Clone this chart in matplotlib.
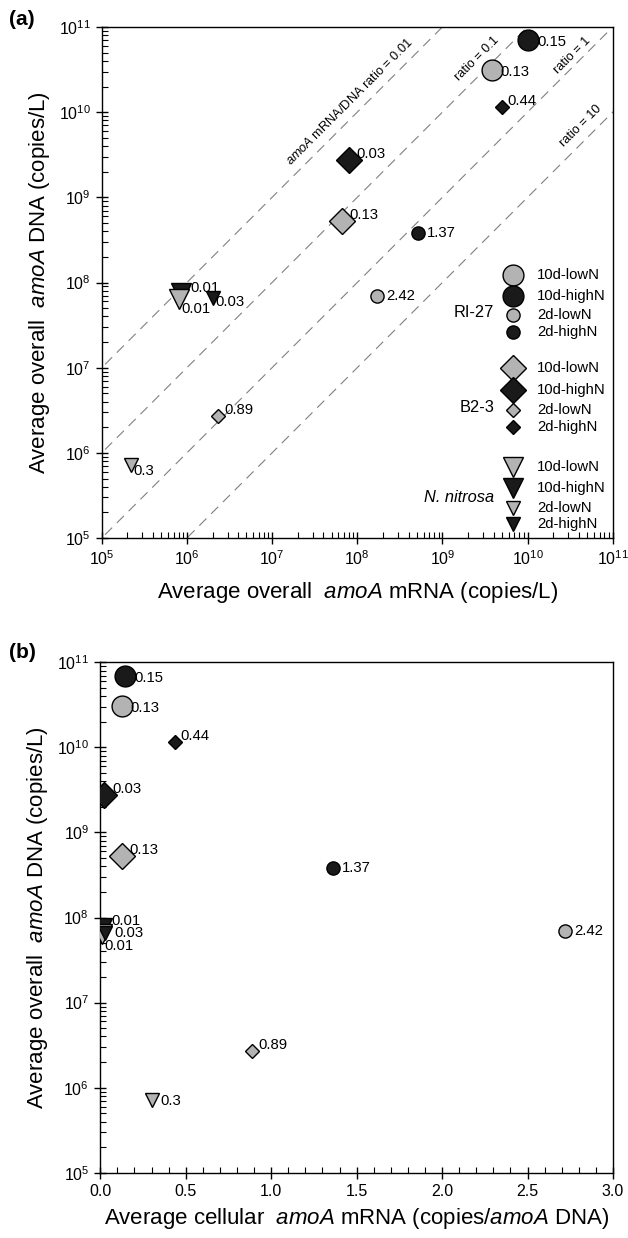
import numpy as np
import matplotlib
matplotlib.use("Agg")
from matplotlib import pyplot as plt
from matplotlib.ticker import FixedLocator, MultipleLocator, FormatStrFormatter

plt.rcParams['font.family'] = ['Liberation Sans', 'DejaVu Sans']
plt.rcParams['mathtext.fontset'] = 'custom'
plt.rcParams['mathtext.rm'] = 'Liberation Sans'
plt.rcParams['mathtext.it'] = 'Liberation Sans:italic'
plt.rcParams['axes.linewidth'] = 1.0

# order inside each group: 10d-lowN, 10d-highN, 2d-lowN, 2d-highN
groups = ['RI-27', 'B2-3', 'N. nitrosa']
treatments = ['10d-lowN', '10d-highN', '2d-lowN', '2d-highN']

# average overall amoA mRNA (copies/L)
mrna = [3.8e9, 1.02e10, 1.7e8, 5.2e8,
        6.6e7, 7.96e7, 2.34e6, 5.06e9,
        8.15e5, 8.6e5, 2.2e5, 2.0e6]
# average overall amoA DNA (copies/L)
dna = [3.1e10, 7.0e10, 7.0e7, 3.8e8,
       5.3e8, 2.74e9, 2.71e6, 1.16e10,
       6.4e7, 7.5e7, 7.26e5, 6.6e7]
# average cellular amoA mRNA (copies/amoA DNA), panel b x
cellular = [0.125, 0.146, 2.72, 1.36,
            0.125, 0.023, 0.89, 0.437,
            0.010, 0.010, 0.30, 0.030]
ratio_labels = ['0.13', '0.15', '2.42', '1.37',
                '0.13', '0.03', '0.89', '0.44',
                '0.01', '0.01', '0.3', '0.03']

ratio_lines = [0.01, 0.1, 1, 10]
decades = [5, 6, 7, 8, 9, 10, 11]

# marker styles
shape = {'RI-27': 'o', 'B2-3': 'D', 'N. nitrosa': 'v'}
size = {'o': (15, 9.5), 'D': (13.5, 7.6), 'v': (15, 10)}
grey = '#b3b3b3'
black = '#1a1a1a'

# label offsets (pixels) for each point, panel a and b
off_a = [(9, -2), (9, -2), (9, 0), (9, 0),
         (8, 6), (8, 6), (6, 6), (5, 6),
         (2, -10), (9, 5), (2, -6), (3, -4)]
off_b = [(9, -2), (9, -2), (9, 0), (9, 0),
         (8, 6), (8, 6), (6, 6), (5, 6),
         (2, -12), (9, 7), (9, -1), (9, 0)]


def style(i):
    g = groups[i // 4]
    t = i % 4
    m = shape[g]
    ms = size[m][0] if t < 2 else size[m][1]
    fc = grey if t % 2 == 0 else black
    return m, ms, fc


def draw_points(ax, xs, ys, offs):
    # lowN drawn on top of highN, like the original
    order = [1, 0, 3, 2, 5, 4, 7, 6, 9, 8, 11, 10]
    for i in order:
        m, ms, fc = style(i)
        ax.plot(xs[i], ys[i], marker=m, ms=ms, mfc=fc, mec='black', mew=1.0,
                ls='none', zorder=4)
    for i in range(len(xs)):
        dx, dy = offs[i]
        ax.annotate(ratio_labels[i], (xs[i], ys[i]), xytext=(dx, dy),
                    textcoords='offset pixels', ha='left', va='center',
                    fontsize=10.7, zorder=5)


def setup_log_axis(axis):
    # only ticks inside 1e5..1e11
    major = [10.0 ** d for d in decades]
    minor = [s * 10.0 ** d for d in decades[:-1] for s in range(2, 10)]
    axis.set_major_locator(FixedLocator(major))
    axis.set_minor_locator(FixedLocator(minor))


def finish_ticks(a):
    a.tick_params(which='major', direction='inout', length=9, width=1,
                  labelsize=11.5, top=False, right=False)
    a.tick_params(which='minor', direction='in', length=4, width=0.8,
                  top=False, right=False)


fig = plt.figure(figsize=(6.28, 12.38), dpi=100)

# ---------------- panel (a)
ax = fig.add_axes([0.162, 0.5654, 0.8137, 0.4128])
ax.set_xscale('log')
ax.set_yscale('log')
ax.set_xlim(1e5, 1e11)
ax.set_ylim(1e5, 1e11)
setup_log_axis(ax.xaxis)
setup_log_axis(ax.yaxis)

xl = np.array([1e3, 1e12])
for r in ratio_lines:
    ax.plot(xl, xl / r, ls=(0, (9, 6)), color='#808080', lw=0.8, zorder=1)

# ratio line labels: anchor log10(x) on the line, offset perpendicular (px)
line_text = [(8.02, 9.0, r'$\it{amoA}$ mRNA/DNA ratio = 0.01'),
             (9.52, 9.5, 'ratio = 0.1'),
             (10.60, 6.0, 'ratio = 1'),
             (10.73, 9.0, 'ratio = 10')]
for (lx, d, txt), r in zip(line_text, ratio_lines):
    x0 = 10 ** lx
    ax.annotate(txt, (x0, x0 / r), xytext=(-d, d), textcoords='offset pixels',
                rotation=45, rotation_mode='anchor', ha='center', va='center',
                fontsize=9.2, zorder=3)

draw_points(ax, mrna, dna, off_a)

# legend drawn by hand (axes fractions)
leg_rows = [[0.515, 0.474, 0.436, 0.403],
            [0.333, 0.290, 0.250, 0.217],
            [0.139, 0.098, 0.059, 0.027]]
leg_group_y = [0.442, 0.256, 0.080]
for gi, g in enumerate(groups):
    for t in range(4):
        m, ms, fc = style(gi * 4 + t)
        ax.plot(0.804, leg_rows[gi][t], marker=m, ms=ms, mfc=fc, mec='black',
                mew=1.0, transform=ax.transAxes, clip_on=False, zorder=4)
        ax.text(0.852, leg_rows[gi][t], treatments[t], transform=ax.transAxes,
                ha='left', va='center', fontsize=10.7)
    ax.text(0.768, leg_group_y[gi], g, transform=ax.transAxes, ha='right',
            va='center', fontsize=11.8,
            style='italic' if g == 'N. nitrosa' else 'normal')

ax.set_xlabel(r'Average overall  $\it{amoA}$ mRNA (copies/L)', fontsize=16, labelpad=9)
ax.set_ylabel(r'Average overall  $\it{amoA}$ DNA (copies/L)', fontsize=16, labelpad=5)
finish_ticks(ax)
fig.text(0.015, 0.984, '(a)', fontsize=15, fontweight='bold', va='center')

# ---------------- panel (b)
bx = fig.add_axes([0.1597, 0.0527, 0.8164, 0.4123])
bx.set_yscale('log')
bx.set_xlim(0, 3.0)
bx.set_ylim(1e5, 1e11)
setup_log_axis(bx.yaxis)
bx.xaxis.set_major_locator(MultipleLocator(0.5))
bx.xaxis.set_minor_locator(MultipleLocator(0.1))
bx.xaxis.set_major_formatter(FormatStrFormatter('%.1f'))

draw_points(bx, cellular, dna, off_b)

bx.set_xlabel(r'Average cellular  $\it{amoA}$ mRNA (copies/$\it{amoA}$ DNA)',
              fontsize=16, labelpad=5)
bx.set_ylabel(r'Average overall  $\it{amoA}$ DNA (copies/L)', fontsize=16, labelpad=5)
finish_ticks(bx)
fig.text(0.015, 0.473, '(b)', fontsize=15, fontweight='bold', va='center')

fig.savefig('out.png', dpi=100)
